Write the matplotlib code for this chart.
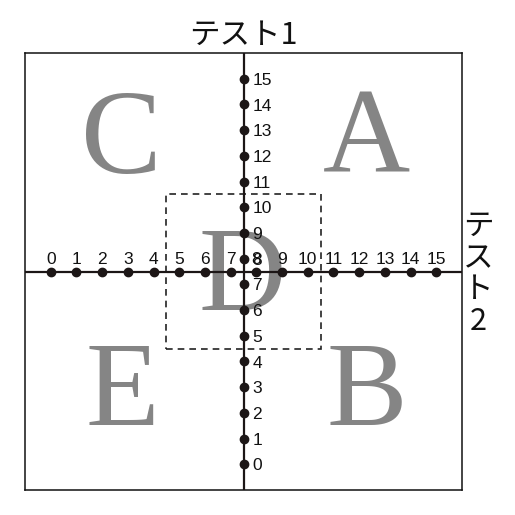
import matplotlib
matplotlib.use("Agg")
import matplotlib.pyplot as plt
from matplotlib.patches import Rectangle

plt.rcParams['font.family'] = ['Liberation Sans', 'Noto Sans CJK JP', 'DejaVu Sans']

# Data
h_values = list(range(16))          # テスト2 scale (horizontal)
v_values = list(range(16))          # テスト1 scale (vertical)
axis_cross = 7.5
inner_box = (4.5, 10.5)
letters = ['C', 'A', 'E', 'B', 'D']
letter_x = [2.76, 12.28, 2.78, 12.3, 7.44]
letter_y = [11.32, 11.35, 1.53, 1.53, 6.01]
title_top = 'テスト1'
title_right = 'テスト2'

fig = plt.figure(figsize=(5.15, 5.15), dpi=100)
ax = fig.add_axes([25/515, 25/515, 437/515, 437/515])
ax.set_xlim(-1, 16)
ax.set_ylim(-1, 16)
ax.set_xticks([])
ax.set_yticks([])
for s in ax.spines.values():
    s.set_linewidth(1.1)
    s.set_color('#111111')

# Big letters
for t, x, y in zip(letters, letter_x, letter_y):
    ax.text(x, y, t, fontsize=87, family='Liberation Serif', color='#858585',
            ha='center', va='baseline', zorder=1)

# Dashed inner box
lo, hi = inner_box
ax.add_patch(Rectangle((lo, lo), hi - lo, hi - lo, fill=False, ls=(0, (4, 3)),
                       lw=1.2, ec='#222222', zorder=2))

dark = '#1c1616'
ax.axhline(axis_cross, color=dark, lw=1.6, zorder=3)
ax.axvline(axis_cross, color=dark, lw=1.6, zorder=3)
ax.plot(h_values, [axis_cross]*len(h_values), 'o', color=dark, ms=6, zorder=4)
ax.plot([axis_cross]*len(v_values), v_values, 'o', color=dark, ms=6, zorder=4)

for v in h_values:
    ax.annotate(str(v), (v, axis_cross), xytext=(0, 5.2), textcoords='offset points',
                ha='center', va='baseline', fontsize=12.5, color='#111111', zorder=5)
for v in v_values:
    ax.annotate(str(v), (axis_cross, v), xytext=(6.5, -4.4), textcoords='offset points',
                ha='left', va='baseline', fontsize=12.5, color='#111111', zorder=5)

fig.text(243.5/515, 1 - 35/515, title_top, ha='center', va='center', fontsize=22,
         family=['Noto Sans CJK JP', 'DejaVu Sans'], color='#111111')
fig.text(478/515, 1 - 274/515, '\n'.join(title_right), ha='center', va='center',
         fontsize=22, family=['Noto Sans CJK JP', 'DejaVu Sans'], color='#111111',
         linespacing=1.02)

fig.savefig('out.png', dpi=100)
